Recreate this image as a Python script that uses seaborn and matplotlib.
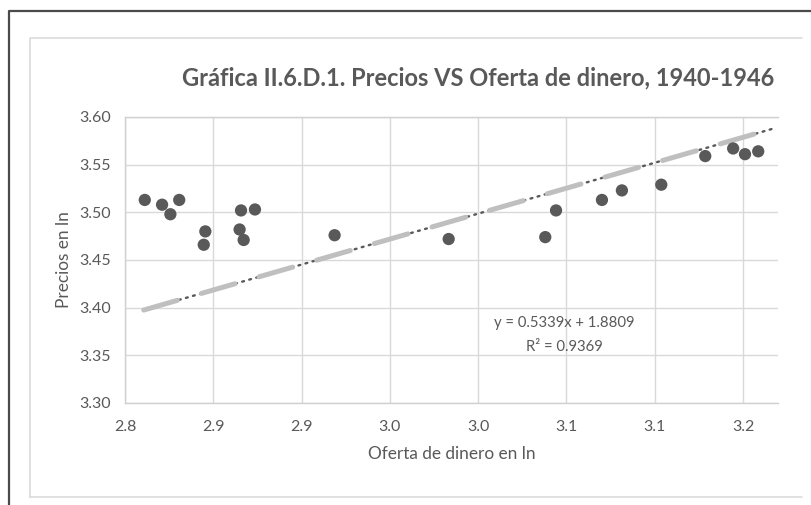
import numpy as np
import pandas as pd

import matplotlib
matplotlib.use('agg')
import matplotlib.pyplot as plt
from matplotlib.lines import Line2D
import seaborn as sns

# oferta de dinero (ln) y precios (ln)
oferta = [2.8412, 2.8510, 2.8557, 2.8607, 2.8755, 2.8746, 2.8957, 2.8949, 2.8972, 2.9036,
          2.9487, 3.0133, 3.0680, 3.0741, 3.1001, 3.1114, 3.1337, 3.1586, 3.1744, 3.1811, 3.1886]
precios = [3.513, 3.508, 3.498, 3.513, 3.480, 3.466, 3.502, 3.482, 3.471, 3.503,
           3.476, 3.472, 3.474, 3.502, 3.513, 3.523, 3.529, 3.559, 3.567, 3.561, 3.564]

# linea de tendencia
pendiente = 0.5339
intercepto = 1.8809
tendencia_x = [2.8406, 3.1990]

x_ticks = [2.83, 2.88, 2.93, 2.98, 3.03, 3.08, 3.13, 3.18]
x_tick_labels = ['2.8', '2.9', '2.9', '3.0', '3.0', '3.1', '3.1', '3.2']
y_ticks = [3.30, 3.35, 3.40, 3.45, 3.50, 3.55, 3.60]
y_tick_labels = ['3.30', '3.35', '3.40', '3.45', '3.50', '3.55', '3.60']

titulo = 'Gráfica II.6.D.1. Precios VS Oferta de dinero, 1940-1946'
ecuacion = 'y = 0.5339x + 1.8809'
r2 = 'R² = 0.9369'

sns.set_style('white')
plt.rcParams['font.family'] = ['Lato', 'DejaVu Sans']

gris = '#595959'
W, H = 812, 505

fig = plt.figure(figsize=(W / 100, H / 100), dpi=100)
ax = fig.add_axes([125 / W, 1 - 403 / H, (778 - 125) / W, (403 - 117) / H])

data = pd.DataFrame({'oferta': oferta, 'precios': precios})

# tendencia: puntos oscuros debajo, guiones grises encima
tx = np.array(tendencia_x)
ty = pendiente * tx + intercepto
ax.plot(tx, ty, color=gris, lw=1.7, linestyle=(0, (0.8, 2.3)),
        dash_capstyle='round', zorder=2)
ax.plot(tx, ty, color='#BFBFBF', lw=3.6, linestyle=(0, (7.0, 5.0)),
        dash_capstyle='round', solid_capstyle='round', zorder=3)

sns.scatterplot(data=data, x='oferta', y='precios', ax=ax, s=78, color=gris,
                edgecolor='none', linewidth=0, zorder=4)

ax.set_xlim(2.83, 3.1998)
ax.set_ylim(3.30, 3.60)
ax.set_xticks(x_ticks)
ax.set_xticklabels(x_tick_labels)
ax.set_yticks(y_ticks)
ax.set_yticklabels(y_tick_labels)
ax.tick_params(axis='both', length=0, labelsize=11.5, labelcolor=gris)
ax.tick_params(axis='x', pad=12)
ax.tick_params(axis='y', pad=10)

ax.grid(True, color='#D9D9D9', lw=1.0)
ax.set_axisbelow(True)
for side in ['left', 'bottom', 'top']:
    ax.spines[side].set_color('#D0D0D0')
    ax.spines[side].set_linewidth(1.0)
ax.spines['right'].set_visible(False)

ax.set_xlabel('Oferta de dinero en ln', fontsize=12.4, color=gris, labelpad=9)
ax.set_ylabel('Precios en ln', fontsize=12.4, color=gris, labelpad=5)

fig.text(478 / W, 1 - 78 / H, titulo, ha='center', va='center', fontsize=17,
         fontweight='bold', color=gris)

ax.text(564 / W, 1 - 323 / H, ecuacion, transform=fig.transFigure, ha='center',
        va='center', fontsize=10.7, color=gris)
ax.text(564 / W, 1 - 347 / H, r2, transform=fig.transFigure, ha='center',
        va='center', fontsize=10.7, color=gris)

# marcos
fig.add_artist(Line2D([30 / W, 30 / W, 802 / W], [1 - 497 / H, 1 - 38 / H, 1 - 38 / H],
                      transform=fig.transFigure, color='#D9D9D9', lw=1.1))
fig.add_artist(Line2D([30 / W, 802 / W], [1 - 497 / H, 1 - 497 / H],
                      transform=fig.transFigure, color='#D9D9D9', lw=1.1))
fig.add_artist(Line2D([9 / W, 9 / W, 1.0], [0.0, 1 - 11 / H, 1 - 11 / H],
                      transform=fig.transFigure, color='#4A4A4A', lw=1.6))

fig.savefig('out.png', dpi=100, facecolor='white')
